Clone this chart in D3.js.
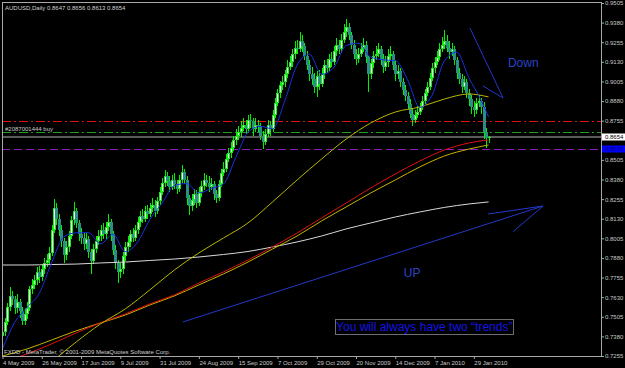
<!DOCTYPE html>
<html><head><meta charset="utf-8">
<script src="https://cdn.jsdelivr.net/npm/d3@7"></script>
<style>html,body{margin:0;padding:0;background:#000;}svg{display:block;}</style>
</head><body>
<svg id="c" width="625" height="368"></svg>
<script>
// ---------------- data ----------------
const symbol = "AUDUSD,Daily";
const lastBarOHLC = [0.8647, 0.8656, 0.8613, 0.8654];
const opens = [0.7380,0.7410,0.7470,0.7570,0.7640,0.7620,0.7560,0.7600,0.7540,0.7480,
0.7520,0.7560,0.7680,0.7710,0.7740,0.7790,0.7760,0.7810,0.7850,0.7870,
0.7910,0.8060,0.8200,0.8130,0.8060,0.7990,0.7900,0.7950,0.8020,0.8120,
0.8180,0.8100,0.8030,0.8010,0.7970,0.8000,0.7920,0.7860,0.7940,0.7990,
0.8020,0.8060,0.8030,0.8080,0.8110,0.8030,0.7930,0.7850,0.7790,0.7810,
0.7890,0.7950,0.7980,0.8030,0.8010,0.8060,0.8110,0.8150,0.8130,0.8180,
0.8160,0.8200,0.8220,0.8180,0.8240,0.8300,0.8360,0.8400,0.8370,0.8330,
0.8380,0.8350,0.8320,0.8380,0.8430,0.8380,0.8260,0.8210,0.8250,0.8290,
0.8230,0.8300,0.8340,0.8380,0.8360,0.8330,0.8350,0.8290,0.8260,0.8350,
0.8420,0.8450,0.8510,0.8550,0.8580,0.8630,0.8660,0.8680,0.8710,0.8730,
0.8700,0.8760,0.8750,0.8700,0.8730,0.8720,0.8660,0.8620,0.8670,0.8730,
0.8700,0.8790,0.8870,0.8930,0.8980,0.9000,0.9050,0.9100,0.9130,0.9180,
0.9220,0.9210,0.9260,0.9230,0.9170,0.9110,0.9050,0.9020,0.8970,0.9040,
0.8990,0.9050,0.9110,0.9090,0.9150,0.9130,0.9200,0.9240,0.9210,0.9270,
0.9320,0.9350,0.9300,0.9240,0.9180,0.9150,0.9180,0.9210,0.9240,0.9160,
0.9050,0.9120,0.9170,0.9180,0.9210,0.9150,0.9100,0.9130,0.9170,0.9180,
0.9110,0.9050,0.9070,0.9000,0.8950,0.8910,0.8860,0.8800,0.8760,0.8790,
0.8810,0.8840,0.8880,0.8930,0.8970,0.9030,0.9090,0.9130,0.9160,0.9210,
0.9240,0.9260,0.9220,0.9190,0.9210,0.9140,0.9060,0.9020,0.8970,0.9000,
0.8930,0.8890,0.8840,0.8820,0.8870,0.8880,0.8840,0.8680,0.8647];
const highs = [0.7445,0.7495,0.7590,0.7695,0.7670,0.7640,0.7650,0.7620,0.7570,0.7560,
0.7600,0.7700,0.7745,0.7770,0.7820,0.7830,0.7840,0.7880,0.7905,0.7950,
0.8090,0.8255,0.8230,0.8160,0.8090,0.8010,0.7990,0.8050,0.8150,0.8235,
0.8200,0.8120,0.8070,0.8040,0.8040,0.8020,0.7940,0.7970,0.8020,0.8060,
0.8090,0.8100,0.8110,0.8160,0.8130,0.8050,0.7960,0.7870,0.7850,0.7920,
0.7980,0.8020,0.8060,0.8070,0.8090,0.8140,0.8180,0.8190,0.8210,0.8220,
0.8230,0.8260,0.8250,0.8270,0.8330,0.8390,0.8440,0.8430,0.8400,0.8410,
0.8420,0.8380,0.8410,0.8475,0.8450,0.8400,0.8280,0.8290,0.8320,0.8310,
0.8330,0.8370,0.8420,0.8410,0.8400,0.8390,0.8370,0.8310,0.8380,0.8450,
0.8490,0.8540,0.8580,0.8620,0.8660,0.8700,0.8720,0.8750,0.8775,0.8760,
0.8790,0.8800,0.8770,0.8770,0.8760,0.8740,0.8690,0.8700,0.8760,0.8750,
0.8820,0.8900,0.8960,0.9010,0.9040,0.9080,0.9140,0.9170,0.9210,0.9260,
0.9270,0.9320,0.9300,0.9250,0.9200,0.9140,0.9100,0.9060,0.9070,0.9080,
0.9090,0.9140,0.9150,0.9180,0.9190,0.9230,0.9280,0.9270,0.9310,0.9370,
0.9405,0.9380,0.9320,0.9270,0.9210,0.9220,0.9250,0.9280,0.9260,0.9170,
0.9150,0.9200,0.9230,0.9250,0.9230,0.9180,0.9170,0.9210,0.9230,0.9200,
0.9140,0.9110,0.9090,0.9030,0.8980,0.8940,0.8890,0.8830,0.8820,0.8850,
0.8870,0.8910,0.8960,0.9000,0.9060,0.9120,0.9160,0.9200,0.9250,0.9290,
0.9330,0.9300,0.9260,0.9250,0.9230,0.9160,0.9090,0.9050,0.9040,0.9020,
0.8960,0.8920,0.8880,0.8900,0.8920,0.8900,0.8875,0.8710,0.8656];
const lows = [0.7330,0.7385,0.7450,0.7540,0.7580,0.7520,0.7530,0.7500,0.7450,0.7455,
0.7490,0.7540,0.7650,0.7680,0.7710,0.7720,0.7730,0.7780,0.7820,0.7840,
0.7890,0.8040,0.8090,0.8020,0.7950,0.7850,0.7870,0.7920,0.8000,0.8090,
0.8070,0.7990,0.7970,0.7930,0.7940,0.7880,0.7780,0.7840,0.7910,0.7960,
0.7990,0.8000,0.8000,0.8050,0.7990,0.7900,0.7810,0.7720,0.7750,0.7780,
0.7860,0.7920,0.7950,0.7980,0.7990,0.8030,0.8080,0.8100,0.8110,0.8130,
0.8140,0.8170,0.8140,0.8160,0.8220,0.8280,0.8330,0.8340,0.8300,0.8310,
0.8320,0.8290,0.8300,0.8360,0.8350,0.8220,0.8155,0.8180,0.8220,0.8200,
0.8210,0.8270,0.8310,0.8330,0.8300,0.8310,0.8250,0.8230,0.8240,0.8330,
0.8400,0.8430,0.8490,0.8520,0.8560,0.8600,0.8630,0.8650,0.8690,0.8670,
0.8680,0.8710,0.8660,0.8680,0.8680,0.8630,0.8575,0.8600,0.8650,0.8660,
0.8680,0.8770,0.8850,0.8900,0.8950,0.8970,0.9030,0.9080,0.9100,0.9150,
0.9180,0.9190,0.9190,0.9140,0.9080,0.9010,0.8980,0.8930,0.8905,0.8950,
0.8970,0.9020,0.9060,0.9070,0.9100,0.9110,0.9170,0.9180,0.9190,0.9250,
0.9290,0.9270,0.9210,0.9150,0.9110,0.9120,0.9160,0.9190,0.9120,0.8940,
0.9020,0.9090,0.9140,0.9160,0.9110,0.9060,0.9070,0.9100,0.9140,0.9080,
0.9010,0.9020,0.8970,0.8920,0.8880,0.8830,0.8770,0.8720,0.8740,0.8770,
0.8790,0.8820,0.8860,0.8910,0.8950,0.9010,0.9060,0.9110,0.9140,0.9190,
0.9210,0.9190,0.9150,0.9170,0.9110,0.9020,0.8990,0.8930,0.8950,0.8900,
0.8850,0.8800,0.8780,0.8800,0.8840,0.8800,0.8640,0.8580,0.8613];
const closes = [0.7410,0.7470,0.7570,0.7640,0.7620,0.7560,0.7600,0.7540,0.7480,0.7520,
0.7560,0.7680,0.7710,0.7740,0.7790,0.7760,0.7810,0.7850,0.7870,0.7910,
0.8060,0.8200,0.8130,0.8060,0.7990,0.7900,0.7950,0.8020,0.8120,0.8180,
0.8100,0.8030,0.8010,0.7970,0.8000,0.7920,0.7860,0.7940,0.7990,0.8020,
0.8060,0.8030,0.8080,0.8110,0.8030,0.7930,0.7850,0.7790,0.7810,0.7890,
0.7950,0.7980,0.8030,0.8010,0.8060,0.8110,0.8150,0.8130,0.8180,0.8160,
0.8200,0.8220,0.8180,0.8240,0.8300,0.8360,0.8400,0.8370,0.8330,0.8380,
0.8350,0.8320,0.8380,0.8430,0.8380,0.8260,0.8210,0.8250,0.8290,0.8230,
0.8300,0.8340,0.8380,0.8360,0.8330,0.8350,0.8290,0.8260,0.8350,0.8420,
0.8450,0.8510,0.8550,0.8580,0.8630,0.8660,0.8680,0.8710,0.8730,0.8700,
0.8760,0.8750,0.8700,0.8730,0.8720,0.8660,0.8620,0.8670,0.8730,0.8700,
0.8790,0.8870,0.8930,0.8980,0.9000,0.9050,0.9100,0.9130,0.9180,0.9220,
0.9210,0.9260,0.9230,0.9170,0.9110,0.9050,0.9020,0.8970,0.9040,0.8990,
0.9050,0.9110,0.9090,0.9150,0.9130,0.9200,0.9240,0.9210,0.9270,0.9320,
0.9350,0.9300,0.9240,0.9180,0.9150,0.9180,0.9210,0.9240,0.9160,0.9050,
0.9120,0.9170,0.9180,0.9210,0.9150,0.9100,0.9130,0.9170,0.9180,0.9110,
0.9050,0.9070,0.9000,0.8950,0.8910,0.8860,0.8800,0.8760,0.8790,0.8810,
0.8840,0.8880,0.8930,0.8970,0.9030,0.9090,0.9130,0.9160,0.9210,0.9240,
0.9260,0.9220,0.9190,0.9210,0.9140,0.9060,0.9020,0.8970,0.9000,0.8930,
0.8890,0.8840,0.8820,0.8870,0.8880,0.8840,0.8680,0.8647,0.8654];

// moving averages, read at these bar indices
const maIndex = [0,10,20,30,40,50,60,70,80,90,100,110,120,130,140,150,160,170,180,190,198];
const maWhite = [0.7835,0.7835,0.7838,0.7841,0.7848,0.7854,0.7864,0.7873,0.7886,0.7902,0.7921,0.7950,0.7982,0.8020,0.8065,0.8103,0.8141,0.8173,0.8202,0.8224,0.8237];
const maRed = [0.7217,0.7268,0.7332,0.7402,0.7466,0.7523,0.7587,0.7644,0.7720,0.7791,0.7867,0.7950,0.8039,0.8135,0.8230,0.8326,0.8415,0.8498,0.8568,0.8613,0.8632];
const maYellowSlow = [0.7255,0.7300,0.7357,0.7415,0.7466,0.7516,0.7580,0.7638,0.7708,0.7778,0.7854,0.7937,0.8020,0.8116,0.8205,0.8294,0.8377,0.8460,0.8530,0.8574,0.8600];
const maYellowFast = [null,null,0.7217,0.7344,0.7460,0.7555,0.7676,0.7803,0.7912,0.8007,0.8103,0.8237,0.8377,0.8511,0.8638,0.8740,0.8810,0.8842,0.8893,0.8925,0.8906];
const blueIndex = [0,5,10,15,20,25,30,35,40,45,50,55,60,65,70,75,80,85,90,95,100,105,110,115,120,125,130,135,140,145,150,155,160,165,170,175,180,185,190,195,198];
const maBlue = [0.7300,0.7470,0.7565,0.7655,0.7849,0.8015,0.8040,0.8041,0.7970,0.8031,0.7920,0.7980,0.8125,0.8230,0.8341,0.8354,0.8294,0.8323,0.8351,0.8519,0.8681,0.8719,0.8703,0.8881,0.9109,0.9179,0.9050,0.9095,0.9234,0.9249,0.9161,0.9143,0.9138,0.9016,0.8840,0.8918,0.9136,0.9191,0.9028,0.8884,0.8779];

// x axis labels every 16 bars
const dateLabels = ["4 May 2009","26 May 2009","17 Jun 2009","9 Jul 2009","31 Jul 2009","24 Aug 2009","15 Sep 2009","7 Oct 2009","29 Oct 2009","20 Nov 2009","14 Dec 2009","7 Jan 2010","29 Jan 2010"];
const dateLabelStep = 16;
const priceTicks = [0.9505,0.9380,0.9255,0.9130,0.9005,0.8880,0.8755,0.8505,0.8380,0.8255,0.8130,0.8005,0.7880,0.7755,0.7630,0.7505,0.7380,0.7255];

// order levels
const takeProfit = 0.8755;
const orderPrice = 0.8681;
const bidPrice = 0.8654;
const stopLoss = 0.8573;
const orderLabel = "#2087001444 buy";

// drawn objects (bar index, price)
const trendStart = [[73.5,0.7472],[197.8,0.8160],[207.9,0.8046],[190.4,0.9346],[195.7,0.8976]];
const trendEnd   = [[220.2,0.8211],[220.2,0.8211],[220.2,0.8211],[203.9,0.8900],[203.9,0.8900]];
const noteTexts = ["Down","UP"];
const noteAt = [[205.9,0.9097],[163.5,0.7759]];
const boxText = "You will always have two \u201Ctrends\u201D";
const boxAt = [135.9,0.7415];
const copyright = "FXDD - MetaTrader, \u00A9 2001-2009 MetaQuotes Software Corp.";

// ---------------- drawing ----------------
const FONT = '"Liberation Sans", Arial, sans-serif';
const svg = d3.select('#c');
svg.append('rect').attr('width',625).attr('height',368).attr('fill','#000');
svg.append('defs').append('clipPath').attr('id','clip')
  .append('rect').attr('x',2).attr('y',2).attr('width',599).attr('height',354);

const x = d3.scaleLinear().domain([-0.2, 243.8]).range([2, 601]);
const y = d3.scaleLinear().domain([0.7255, 0.9505]).range([356, 3]);
const py = v => Math.round(y(v)) + 0.5;

const plot = svg.append('g').attr('clip-path','url(#clip)');

// level lines
const lv = plot.append('g');
lv.append('line').attr('x1',2).attr('x2',601).attr('y1',py(takeProfit)).attr('y2',py(takeProfit))
  .attr('stroke','#e01010').attr('stroke-dasharray','9,3,2,3');
lv.append('line').attr('x1',2).attr('x2',601).attr('y1',py(orderPrice)).attr('y2',py(orderPrice))
  .attr('stroke','#20a020').attr('stroke-dasharray','9,3,2,3');
lv.append('line').attr('x1',2).attr('x2',601).attr('y1',Math.round(y(bidPrice))).attr('y2',Math.round(y(bidPrice)))
  .attr('stroke','#5a5a5a').attr('stroke-width',2);
lv.append('line').attr('x1',2).attr('x2',601).attr('y1',py(stopLoss)).attr('y2',py(stopLoss))
  .attr('stroke','#8a20b8').attr('stroke-dasharray','8,4');
lv.append('text').attr('x',5).attr('y',y(orderPrice)-1.5).text(orderLabel)
  .attr('fill','#c8c8c8').attr('font-family',FONT).attr('font-size',6);

// candles
const bars = closes.map((c,i)=>({i, o:opens[i], h:highs[i], l:lows[i], c}));
const cg = plot.append('g').attr('shape-rendering','crispEdges');
cg.selectAll('line').data(bars).join('line')
  .attr('x1',d=>Math.round(x(d.i))+0.5).attr('x2',d=>Math.round(x(d.i))+0.5)
  .attr('y1',d=>y(d.h)).attr('y2',d=>y(d.l))
  .attr('stroke','#00f000').attr('stroke-width',1);
cg.selectAll('rect.body').data(bars).join('rect').attr('class','body')
  .attr('x',d=>Math.round(x(d.i))-1)
  .attr('width',3)
  .attr('y',d=>y(Math.max(d.o,d.c)))
  .attr('height',d=>Math.max(1, Math.abs(y(d.o)-y(d.c))))
  .attr('fill',d=>d.c>=d.o ? '#20e820' : '#2c8c86');
cg.selectAll('rect.core').data(bars.filter(d=>d.c>=d.o)).join('rect').attr('class','core')
  .attr('x',d=>Math.round(x(d.i)))
  .attr('width',1)
  .attr('y',d=>y(d.c)+1)
  .attr('height',d=>Math.max(0, Math.abs(y(d.o)-y(d.c))-2))
  .attr('fill','#e8ffe8');

// moving averages
const mkLine = () => d3.line().defined(d=>d[1]!=null)
  .x(d=>x(d[0])).y(d=>y(d[1])).curve(d3.curveMonotoneX);
function drawMA(idx, vals, color){
  plot.append('path').datum(idx.map((k,j)=>[k, vals[j]]))
    .attr('d', mkLine()).attr('fill','none').attr('stroke',color).attr('stroke-width',1);
}
drawMA(maIndex, maWhite, '#d8d8d8');
drawMA(maIndex, maYellowSlow, '#c8b400');
drawMA(maIndex, maRed, '#e01010');
drawMA(maIndex, maYellowFast, '#b8b800');
drawMA(blueIndex, maBlue, '#1a30e0');

// trend lines
plot.append('g').selectAll('line').data(trendStart).join('line')
  .attr('x1',d=>x(d[0])).attr('y1',d=>y(d[1]))
  .attr('x2',(d,k)=>x(trendEnd[k][0])).attr('y2',(d,k)=>y(trendEnd[k][1]))
  .attr('stroke','#2438c8').attr('stroke-width',1);

// notes
plot.append('g').selectAll('text').data(noteTexts).join('text')
  .attr('x',(d,k)=>x(noteAt[k][0])).attr('y',(d,k)=>y(noteAt[k][1]))
  .text(d=>d).attr('fill','#2a44c8').attr('font-family',FONT).attr('font-size',12);
const bt = plot.append('text').attr('x',x(boxAt[0])).attr('y',y(boxAt[1]))
  .text(boxText).attr('fill','#1414e6').attr('font-family',FONT).attr('font-size',12);
const bb = bt.node().getBBox();
plot.append('rect')
  .attr('x',Math.round(bb.x)-0.5).attr('y',Math.round(bb.y)-0.5)
  .attr('width',Math.round(bb.width)+2).attr('height',Math.round(bb.height)+1)
  .attr('fill','none').attr('stroke','#6e6e6e');

// frame
const fr = svg.append('g').attr('stroke','#a8a8a8').attr('stroke-width',1);
fr.append('line').attr('x1',2).attr('x2',602).attr('y1',2.5).attr('y2',2.5);
fr.append('line').attr('x1',2.5).attr('x2',2.5).attr('y1',2).attr('y2',357);
fr.append('line').attr('x1',601.5).attr('x2',601.5).attr('y1',2).attr('y2',357);
fr.append('line').attr('x1',2).attr('x2',602).attr('y1',356.5).attr('y2',356.5);

// axes
const ya = d3.axisRight(y).tickValues(priceTicks).tickSize(3).tickPadding(1).tickFormat(d3.format('.4f'));
const yag = svg.append('g').attr('transform','translate(601,0)').call(ya)
  .attr('font-family',FONT).attr('font-size',6);
yag.select('.domain').remove();
yag.selectAll('line').attr('stroke','#a8a8a8');
yag.selectAll('text').attr('fill','#c8c8c8');

const xa = d3.axisBottom(x).tickValues(dateLabels.map((_,k)=>k*dateLabelStep))
  .tickFormat((d,k)=>dateLabels[k]).tickSize(3).tickPadding(2);
const xag = svg.append('g').attr('transform','translate(0,356)').call(xa)
  .attr('font-family',FONT).attr('font-size',6);
xag.select('.domain').remove();
xag.selectAll('line').attr('stroke','#a8a8a8');
xag.selectAll('text').attr('fill','#c8c8c8').attr('text-anchor','start').attr('x',0);

// price boxes on axis
function priceBox(p, bg, fg){
  const g = svg.append('g');
  g.append('rect').attr('x',602).attr('y',Math.round(y(p))-3.5).attr('width',23).attr('height',7).attr('fill',bg);
  g.append('text').attr('x',605).attr('y',y(p)+2.2).text(d3.format('.4f')(p))
    .attr('fill',fg).attr('font-family',FONT).attr('font-size',6);
}
priceBox(bidPrice,'#ffffff','#000000');
priceBox(stopLoss,'#0000ff','#000070');

// header & copyright
svg.append('text').attr('x',5).attr('y',9.5)
  .text(symbol + '  ' + lastBarOHLC.map(d3.format('.4f')).join(' '))
  .attr('fill','#d0d0d0').attr('font-family',FONT).attr('font-size',6);
svg.append('text').attr('x',4).attr('y',354).text(copyright)
  .attr('fill','#d0d0d0').attr('font-family',FONT).attr('font-size',6);
</script>
</body></html>
